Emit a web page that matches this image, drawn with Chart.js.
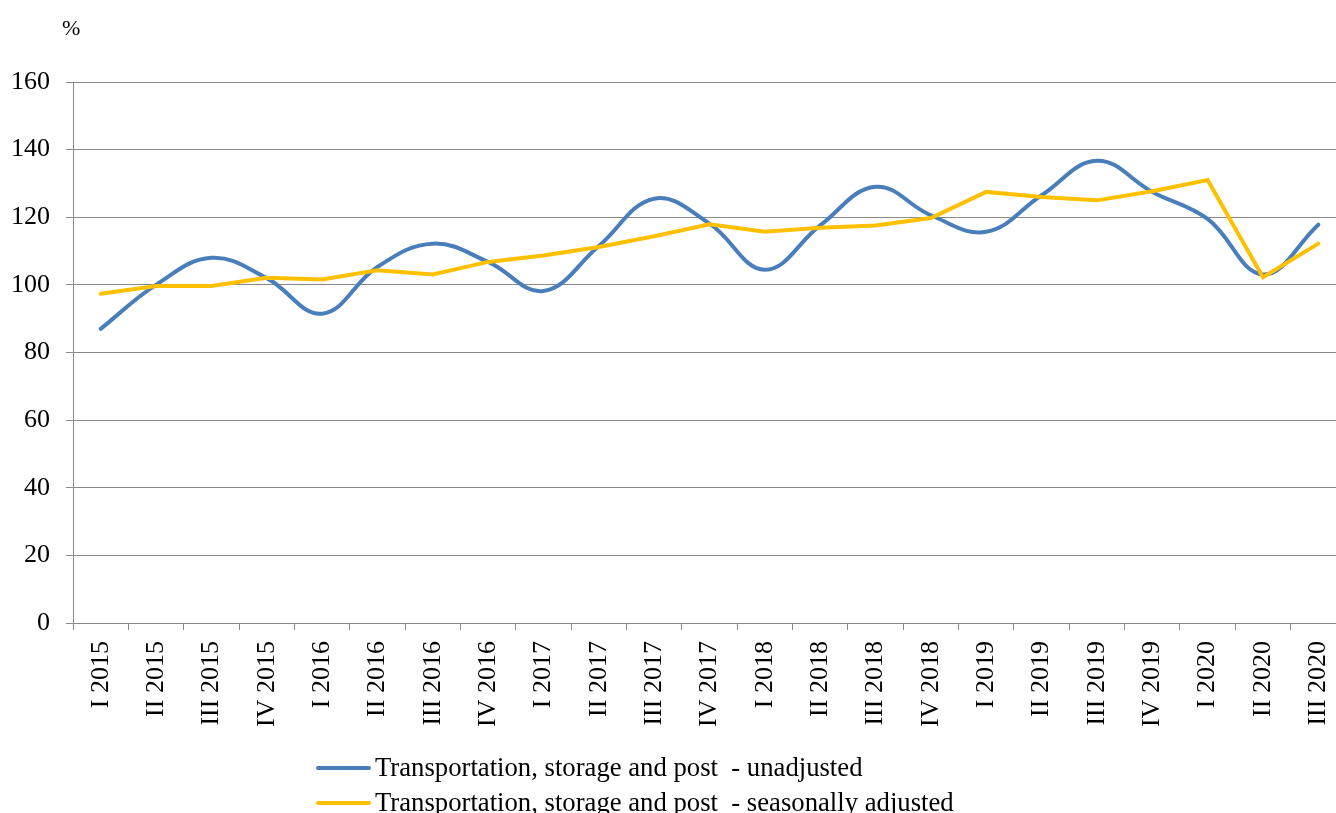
<!DOCTYPE html>
<html>
<head>
<meta charset="utf-8">
<script src="https://cdn.jsdelivr.net/npm/chart.js@4"></script>
<style>
  body { margin: 0; background: #fff; overflow: hidden; }
  #wrap { position: relative; width: 1346px; height: 813px; overflow: hidden; }
  #unit { position: absolute; left: 62px; top: 15px; font: 22px "Liberation Serif", serif; color: #000; }
  .leg { position: absolute; left: 316px; font: 26.7px "Liberation Serif", serif; color: #000; white-space: pre; display: flex; align-items: center; }
  .leg span.sw { display: inline-block; width: 55px; height: 4px; border-radius: 2px; margin-right: 4px; }
</style>
</head>
<body>
<div id="wrap">
  <canvas id="chart" width="1346" height="813"></canvas>
  <div id="unit">%</div>
  <div class="leg" style="top:752px"><span class="sw" style="background:#4A7EBB"></span>Transportation, storage and post  - unadjusted</div>
  <div class="leg" style="top:787px"><span class="sw" style="background:#FFC000"></span>Transportation, storage and post  - seasonally adjusted</div>
</div>
<script>
// kvartali
const labels = ['I 2015', 'II 2015', 'III 2015', 'IV 2015', 'I 2016', 'II 2016', 'III 2016', 'IV 2016',
    'I 2017', 'II 2017', 'III 2017', 'IV 2017', 'I 2018', 'II 2018', 'III 2018', 'IV 2018',
    'I 2019', 'II 2019', 'III 2019', 'IV 2019', 'I 2020', 'II 2020', 'III 2020'];

const unadjusted = [87, 100, 108, 102, 91.5, 105.3, 112.2, 106.8,
    98.2, 111.5, 125.5, 118.1, 104.5, 117.6, 129, 120.6,
    115.7, 126.5, 136.7, 127.5, 119.5, 103.1, 117.8];

const adjusted = [97.4, 99.7, 99.7, 102.1, 101.6, 104.3, 103.1, 106.8,
    108.7, 111.2, 114.4, 117.9, 115.7, 116.9, 117.6, 119.8,
    127.5, 126.0, 125.0, 127.7, 131.0, 102.3, 112.2];

const yTicks = { min: 0, max: 160, step: 20 };

const gridColor = '#8a8a8a';
const font = { family: '"Liberation Serif", "Times New Roman", serif', size: 26 };

const ctx = document.getElementById('chart').getContext('2d');
const chart = new Chart(ctx, {
    type: 'line',
    data: {
        labels: labels,
        datasets: [
            {
                label: 'Transportation, storage and post  - unadjusted',
                data: unadjusted,
                borderColor: '#4A7EBB',
                borderWidth: 4,
                tension: 0.4,
                pointRadius: 0,
                borderCapStyle: 'round',
                order: 1
            },
            {
                label: 'Transportation, storage and post  - seasonally adjusted',
                data: adjusted,
                borderColor: '#FFC000',
                borderWidth: 4,
                tension: 0,
                pointRadius: 0,
                borderCapStyle: 'round',
                order: 0
            }
        ]
    },
    options: {
        responsive: false,
        animation: false,
        layout: { padding: { left: 0, top: 82, right: 0, bottom: 75 } },
        plugins: { legend: { display: false }, tooltip: { enabled: false } },
        scales: {
            x: {
                offset: true,
                grid: { drawOnChartArea: false, offset: true, tickLength: 7, color: gridColor },
                border: { color: gridColor },
                ticks: { font: font, color: '#000', minRotation: 90, maxRotation: 90, autoSkip: false, padding: 11 },
                afterFit: (scale) => { scale.paddingLeft = 0; scale.paddingRight = 0; }
            },
            y: {
                min: yTicks.min,
                max: yTicks.max,
                grid: { tickLength: 7, color: gridColor },
                border: { color: gridColor },
                ticks: { stepSize: yTicks.step, font: font, color: '#000', padding: 16 },
                afterFit: (scale) => { scale.width = 73; }
            }
        }
    }
});
</script>
</body>
</html>
